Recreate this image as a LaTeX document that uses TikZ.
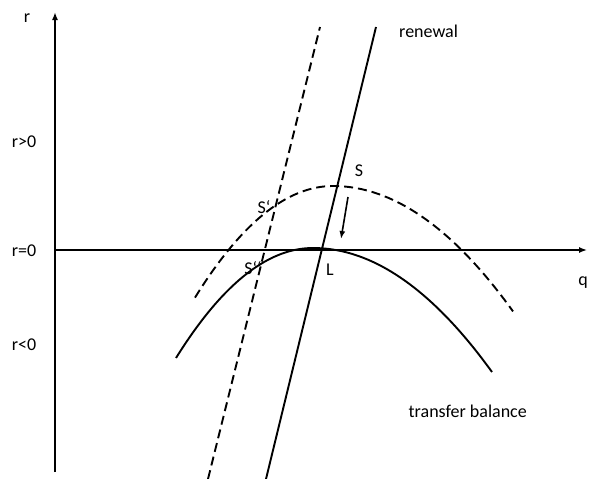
\documentclass[tikz,border=0pt]{standalone}
\usepackage{fontspec}
\setmainfont{Carlito}
\usetikzlibrary{arrows.meta}
\begin{document}
\begin{tikzpicture}[x=1pt,y=-1pt,
  curve/.style={line width=1.9pt},
  dcurve/.style={line width=1.9pt,dash pattern=on 9pt off 5pt},
  axis/.style={line width=1.7pt,-{Latex[length=8pt,width=6pt]}},
  lbl/.style={font=\fontsize{18}{21}\selectfont,inner sep=0pt}]
\useasboundingbox (0,0) rectangle (589,479);
% axes
\coordinate (yb) at (55,472);
\coordinate (yt) at (55,12);
\coordinate (xl) at (55,250);
\coordinate (xr) at (587,250);
\draw[axis] (yb) -- (yt);
\draw[axis,line width=1.4pt] (xl) -- (xr);
% renewal lines
\coordinate (r1) at (266,479);
\coordinate (r2) at (376,27);
\coordinate (d1) at (208,479);
\coordinate (d2) at (320,27);
\draw[curve] (r1) -- (r2);
\draw[dcurve] (d1) -- (d2);
% transfer balance curves
\draw[curve] plot[domain=-13.7:0,samples=40] ({313+10*\x},{248+0.586*\x*\x})
  -- plot[domain=0:17.9,samples=40] ({313+10*\x},{248+0.387*\x*\x});
\draw[dcurve] plot[domain=-13.8:0,samples=40] ({333+10*\x},{186+0.586*\x*\x})
  -- plot[domain=0:18.0,samples=40] ({333+10*\x},{186+0.387*\x*\x});
% arrow S -> L
\coordinate (a1) at (348,197);
\coordinate (a2) at (341,239);
\draw[line width=1.6pt,-{Latex[length=8pt,width=6pt]}] (a1) -- (a2);
% labels
\node[lbl] (lr) at (27,18) {r};
\node[lbl] (lrp) at (24,142) {r>0};
\node[lbl] (lr0) at (24,251) {r=0};
\node[lbl] (lrn) at (24,345) {r<0};
\node[lbl] (lq) at (583,283) {q};
\node[lbl,anchor=west] (lren) at (399,31) {renewal};
\node[lbl,anchor=east] (ltb) at (527,411) {transfer balance};
\node[lbl] (lS) at (359,171) {S};
\node[lbl] (lS1) at (264,207) {S‘};
\node[lbl] (lS2) at (253,268) {S‘‘};
\node[lbl] (lL) at (330,270) {L};
\end{tikzpicture}
\end{document}
